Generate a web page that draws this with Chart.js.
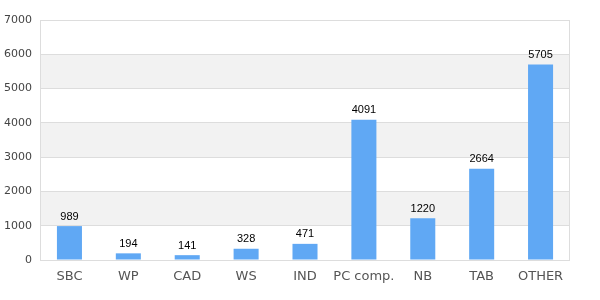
<!DOCTYPE html>
<html><head><meta charset="utf-8">
<script src="https://cdn.jsdelivr.net/npm/chart.js@4"></script>
<style>html,body{margin:0;padding:0;background:#fff}#w{width:600px;height:300px}</style>
</head><body><div id="w"><canvas id="c" width="600" height="300"></canvas></div>
<script>
const categories = ["SBC","WP","CAD","WS","IND","PC comp.","NB","TAB","OTHER"];
const values = [989,194,141,328,471,4091,1220,2664,5705];
const yMax = 7000;
const yStep = 1000;

const bands = {
  id:'bands',
  beforeDraw(chart){
    const {ctx, chartArea:a, scales:{y}} = chart;
    ctx.save();
    ctx.fillStyle = '#f2f2f2';
    for(let v=yStep; v<yMax; v+=2*yStep){
      const t = y.getPixelForValue(v+yStep), b = y.getPixelForValue(v);
      ctx.fillRect(a.left, t, a.right-a.left, b-t);
    }
    ctx.restore();
  },
  afterDraw(chart){
    const {ctx, chartArea:a} = chart;
    ctx.save();
    ctx.strokeStyle = '#dddddd'; ctx.lineWidth = 1;
    ctx.strokeRect(Math.round(a.left)+0.5, Math.round(a.top)+0.5, Math.round(a.right-a.left)-1, Math.round(a.bottom-a.top));
    ctx.restore();
  }
};
const labels = {
  id:'labels',
  afterDatasetsDraw(chart){
    const {ctx} = chart;
    const meta = chart.getDatasetMeta(0);
    ctx.save();
    ctx.fillStyle = '#000';
    ctx.font = '11px "Liberation Sans", Arial, sans-serif';
    ctx.textAlign = 'center'; ctx.textBaseline = 'bottom';
    meta.data.forEach((bar,i)=>{ ctx.fillText(String(values[i]), bar.x, bar.y-4); });
    ctx.restore();
  }
};

new Chart(document.getElementById('c'), {
  type:'bar',
  data:{labels:categories, datasets:[{data:values, backgroundColor:'#60a8f4', barPercentage:0.85, categoryPercentage:0.5}]},
  options:{
    responsive:false, animation:false,
    layout:{padding:{top:20,right:30,left:0,bottom:0}},
    plugins:{legend:{display:false}, tooltip:{enabled:false}},
    scales:{
      x:{
        grid:{display:false, drawTicks:false},
        border:{display:false},
        ticks:{color:'#555', font:{family:'"DejaVu Sans", sans-serif', size:13}, padding:9, maxRotation:0, minRotation:0, autoSkip:false},
        afterFit(s){ s.height = 40; }
      },
      y:{
        min:0, max:yMax,
        grid:{color:'#dddddd', drawTicks:false},
        border:{display:false},
        ticks:{stepSize:yStep, color:'#444', font:{family:'"DejaVu Sans", sans-serif', size:11}, padding:8, callback:(v)=>String(v)},
        afterFit(s){ s.width = 40; }
      }
    }
  },
  plugins:[bands, labels]
});
</script></body></html>
